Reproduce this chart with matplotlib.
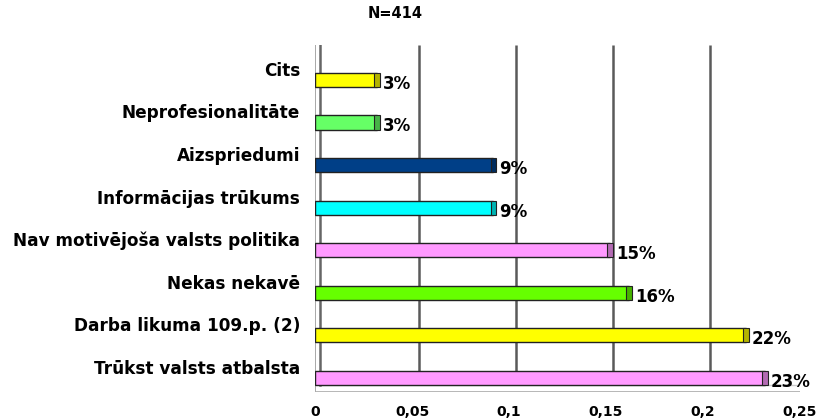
import matplotlib
matplotlib.use("Agg")
import matplotlib.pyplot as plt
from matplotlib.transforms import ScaledTranslation
import matplotlib.colors as mcolors

categories = ["Trūkst valsts atbalsta", "Darba likuma 109.p. (2)", "Nekas nekavē",
              "Nav motivējoša valsts politika", "Informācijas trūkums", "Aizspriedumi",
              "Neprofesionalitāte", "Cits"]
values = [0.232, 0.222, 0.162, 0.152, 0.092, 0.092, 0.032, 0.032]
value_labels = ["23%", "22%", "16%", "15%", "9%", "9%", "3%", "3%"]
colors = ["#FF99FF", "#FFFF00", "#66FF00", "#FF99FF", "#00FFFF", "#003F87", "#66FF66", "#FFFF00"]
xticks = [0, 0.05, 0.1, 0.15, 0.2, 0.25]
xtick_labels = ["0", "0,05", "0,1", "0,15", "0,2", "0,25"]
title = "N=414"

plt.rcParams['font.family'] = ['DejaVu Sans']
fig = plt.figure(figsize=(8.19, 4.2), dpi=100)
ax = fig.add_axes([315/819, 1-392/420, (800-315)/819, (392-45)/420])
ax.set_xlim(0, 0.25)
ax.set_ylim(-0.33, 7.82)

px = lambda x, y: ScaledTranslation(x/100, y/100, fig.dpi_scale_trans)

# grid lines (shifted for 3D depth)
for t in xticks[1:-1]:
    ax.plot([t, t], [0.02, 1.0], transform=ax.get_xaxis_transform() + px(7, 0),
            color="#5A5A5A", lw=1.8, zorder=1, solid_capstyle='butt')
# left wall
ax.plot([0, 0], [0, 1], transform=ax.get_xaxis_transform(), color="#999999", lw=1.2, zorder=1)
ax.plot([0, 0], [0.02, 1], transform=ax.get_xaxis_transform() + px(5, 0), color="#666666", lw=1.8, zorder=1)
# floor
ax.plot([0, 0.25], [0, 0], transform=ax.get_xaxis_transform(), color="#AAAAAA", lw=1.2, zorder=1)
ax.plot([0, 0.25], [0.02, 0.02], transform=ax.get_xaxis_transform() + px(7, 0), color="#CCCCCC", lw=1.0, zorder=1)

bar_h = 0.33
ys = list(range(len(categories)))
for y, v, c, lab in zip(ys, values, colors, value_labels):
    dark = tuple(0.7 * x for x in mcolors.to_rgb(c))
    ax.barh(y, v, height=bar_h, color=c, edgecolor="#222222", linewidth=1.0, zorder=3)
    ax.barh(y, 0.003, left=v - 0.0015, height=bar_h, color=dark, edgecolor="#222222",
            linewidth=0.8, zorder=4)
    ax.annotate(lab, xy=(v, y), xytext=(6, -4), textcoords='offset pixels',
                ha='left', va='center', fontsize=12, fontweight='bold', zorder=5)
    ax.annotate(categories[y], xy=(0, y), xycoords=('axes fraction', 'data'),
                xytext=(-15, 9), textcoords='offset pixels', ha='right', va='center',
                fontsize=12.2, fontweight='bold', annotation_clip=False)

ax.set_yticks([])
ax.set_xticks(xticks)
ax.set_xticklabels(xtick_labels, fontsize=10, fontweight='bold')
ax.tick_params(axis='x', length=0, pad=9)
for s in ax.spines.values():
    s.set_visible(False)

fig.text(395/819, 1-14/420, title, ha='center', va='center', fontsize=10.5, fontweight='bold')
fig.savefig("out.png", dpi=100)
